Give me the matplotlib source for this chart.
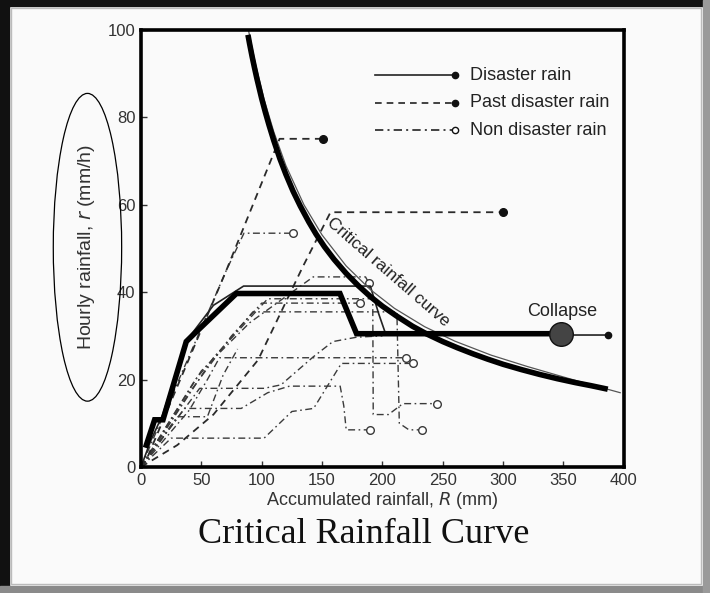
import matplotlib
matplotlib.use('Agg')

import matplotlib.pyplot as plt
from matplotlib.patches import Ellipse, Rectangle

# Critical rainfall curve (bold overlay and the thin original)
crit_R = [88.6, 90, 92, 94, 96, 98, 100, 103, 106, 110, 115, 120, 126, 132, 139, 145, 152, 160, 170,
          180, 190, 200, 212, 225, 237, 250, 262, 275, 287, 300, 315, 330, 345, 360, 373, 386.7]
crit_r = [98.9, 96.8, 94.0, 91.4, 88.9, 86.6, 84.3, 81.2, 78.3, 74.7, 70.6, 67.0, 63.1, 59.7, 56.1, 53.3,
          50.4, 47.5, 44.3, 41.5, 39.0, 36.8, 34.5, 32.2, 30.4, 28.7, 27.3, 25.9, 24.7, 23.5, 22.3, 21.2,
          20.2, 19.3, 18.6, 17.8]
crit_thin_R = [89, 95, 102, 110, 120, 135, 150, 170, 190, 210, 235, 260, 290, 320, 355, 397]
crit_thin_r = [100, 92, 84.1, 76.7, 69.0, 60.0, 53.1, 46.0, 40.6, 36.3, 32.1, 28.8, 25.6, 23.0, 20.2, 17.0]

# Disaster rain: bold overlay up to collapse, thin original to the end
bold_R = [4.4, 11.3, 18.2, 37.5, 43, 79, 164.8, 178.6, 347.8]
bold_r = [5.0, 10.8, 10.8, 28.7, 30.2, 39.7, 39.7, 30.5, 30.5]
disaster_R = [0, 8, 18, 38, 60, 85, 190, 197, 203, 387]
disaster_r = [0, 6, 12, 29, 37, 41.4, 41.4, 35, 30.2, 30.2]
collapse_R = 347.8
collapse_r = 30.5

# Past disaster rain (dashed, filled dot at the end)
past = [
    ([0, 5, 70.7, 114.8, 150.7], [0, 2, 45, 75.1, 75.1]),
    ([0, 30, 60, 97, 134, 157, 299.8], [0, 5, 12, 24.5, 45.8, 58.3, 58.3]),
]

# Non disaster rain (dash-dot, open circle at the end)
non = [
    ([0, 70.7, 85.3, 125.9], [0, 45, 53.5, 53.5]),
    ([0, 50, 90, 120, 142.7, 186, 189], [0, 22, 33, 39, 43.5, 43.5, 42]),
    ([0, 40, 75, 100, 181.4], [0, 17, 30, 37.5, 37.5]),
    ([0, 45, 92.7, 212, 214, 222, 233], [0, 20, 35.5, 35.5, 10, 8.5, 8.5]),
    ([0, 60, 105, 192, 192.4, 205, 217, 245], [0, 25, 38.5, 38.5, 12, 12, 14.5, 14.5]),
    ([0, 40, 55, 65, 219.5], [0, 13, 20, 25, 25]),
    ([0, 25, 102, 125, 143, 166, 225.5], [0, 6.6, 6.6, 12.7, 13.4, 23.7, 23.7]),
    ([0, 36, 83, 105, 123, 165, 168, 170, 190], [0, 13.4, 13.4, 17, 18.5, 18.5, 14, 8.5, 8.5]),
]
non_open = [
    ([0, 48.6, 102, 116, 142.7, 159, 178.6, 200], [0, 18, 18, 18.8, 25.2, 28.7, 29.7, 30]),
    ([0, 30, 55, 68, 80], [0, 11.5, 11.5, 21, 27]),
]

x_ticks = [0, 50, 100, 150, 200, 250, 300, 350, 400]
y_ticks = [0, 20, 40, 60, 80, 100]

bg = '#fafafa'
fig = plt.figure(figsize=(7.1, 5.93), dpi=100, facecolor=bg)
ax = fig.add_axes([0.1986, 0.2125, 0.680, 0.7369], facecolor=bg)

dashdot = (0, (5, 2.5, 1.2, 2.5))
for R, r in non:
    ax.plot(R, r, color='#3a3a3a', lw=1.0, linestyle=dashdot)
    ax.plot(R[-1], r[-1], 'o', ms=5.5, mfc='white', mec='#3a3a3a', mew=1.0)
for R, r in non_open:
    ax.plot(R, r, color='#3a3a3a', lw=1.0, linestyle=dashdot)

for R, r in past:
    ax.plot(R, r, color='#2a2a2a', lw=1.3, linestyle=(0, (4, 3)))
    ax.plot(R[-1], r[-1], 'o', ms=5.5, color='#111')

ax.plot(disaster_R, disaster_r, color='#222', lw=1.2)
ax.plot(disaster_R[-1], disaster_r[-1], 'o', ms=4.5, color='#111')

ax.plot(crit_thin_R, crit_thin_r, color='#555', lw=0.9)
ax.plot(crit_R, crit_r, color='black', lw=4, solid_capstyle='butt', solid_joinstyle='round')
ax.plot(bold_R, bold_r, color='black', lw=4, solid_joinstyle='miter')
ax.plot(collapse_R, collapse_r, 'o', ms=17, mfc='#444', mec='#111', mew=1)

ax.text(collapse_R + 1, collapse_r + 3.2, 'Collapse', ha='center', va='bottom',
        fontsize=13, family='Liberation Sans', color='#222')
ax.text(205, 44.5, 'Critical rainfall curve', ha='center', va='center',
        rotation=-41, fontsize=12.5, family='Liberation Sans', color='#222')

# legend drawn by hand so the marker sits at the right end of each line
leg = [('Disaster rain', '-', 'o', '#111'),
       ('Past disaster rain', (0, (4, 3)), 'o', '#111'),
       ('Non disaster rain', dashdot, 'o', 'white')]
for i, (lab, ls, mk, fc) in enumerate(leg):
    yy = 0.897 - i * 0.063
    ax.plot([0.485, 0.650], [yy, yy], transform=ax.transAxes, color='#222', lw=1.2, linestyle=ls)
    ax.plot([0.650], [yy], mk, transform=ax.transAxes, ms=4.5, mfc=fc, mec='#111', mew=1)
    ax.text(0.681, yy, lab, transform=ax.transAxes, va='center', fontsize=13,
            family='Liberation Sans', color='#222')

ax.set_xlim(0, 400)
ax.set_ylim(0, 100)
ax.set_xticks(x_ticks)
ax.set_yticks(y_ticks)
ax.tick_params(direction='in', length=4, width=1, colors='#333', labelsize=12, pad=4)
for lbl in ax.get_xticklabels() + ax.get_yticklabels():
    lbl.set_family('Liberation Sans')
for s in ax.spines.values():
    s.set_linewidth(2.6)
    s.set_color('black')

ax.set_xlabel(r'Accumulated rainfall, $\it{R}$ (mm)', fontsize=13,
              family='Liberation Sans', color='#333', labelpad=2)

fig.text(0.122, 0.584, r'Hourly rainfall, $\it{r}$ (mm/h)', rotation=90, ha='center', va='center',
         fontsize=14, family='Liberation Sans', color='#333')
fig.patches.append(Ellipse((0.1232, 0.583), 0.0963, 0.519, transform=fig.transFigure,
                           fill=False, ec='black', lw=0.9))
fig.text(0.512, 0.098, 'Critical Rainfall Curve', ha='center', va='center',
         fontsize=26, family='Liberation Serif', color='#111')

# slide frame
fig.patches.append(Rectangle((0, 0), 0.012, 1, transform=fig.transFigure, color='#111'))
fig.patches.append(Rectangle((0, 0.99), 1, 0.01, transform=fig.transFigure, color='#111'))
fig.patches.append(Rectangle((0, 0), 1, 0.012, transform=fig.transFigure, color='#8a8a8a'))
fig.patches.append(Rectangle((0.99, 0), 0.01, 1, transform=fig.transFigure, color='#9a9a9a'))
fig.patches.append(Rectangle((0.015, 0.016), 0.972, 0.97, transform=fig.transFigure,
                             fill=False, ec='#bbbbbb', lw=1))

fig.savefig('out.png', dpi=100, facecolor=bg)
